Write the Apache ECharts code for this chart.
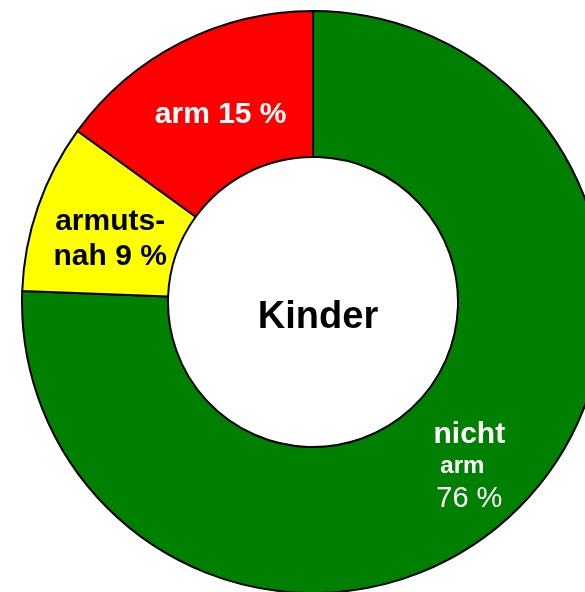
<!DOCTYPE html>
<html lang="de">

<head>
    <meta charset="UTF-8">
    <title>Kinder</title>
    <style>
        * {
            margin: 0;
            padding: 0;
            box-sizing: border-box;
        }

        html,
        body {
            height: 100%;
            background: #fff;
        }

        #box {
            width: 585px;
            height: 592px;
        }
    </style>
    <script src="https://cdn.jsdelivr.net/npm/echarts@6/dist/echarts.min.js"></script>
</head>

<body>
    <div id="box"></div>

    <script>
        // Daten (Anteile in %, Beschriftung gerundet)
        var categories = ['nicht arm', 'armutsnah', 'arm'];
        var values = [75.6, 9.4, 15];
        var colors = ['#008000', '#ffff00', '#ff0000'];
        var centerText = 'Kinder';

        var myChart = echarts.init(document.getElementById('box'));

        // Beschriftung je Segment
        function labelFor(i, v) {
            v = Math.round(v);
            if (i === 0) return '{big|nicht}\n{small|arm}\n{num|' + v + ' %}';
            if (i === 1) return '{y|armuts-}\n{y|nah ' + v + ' %}';
            return '{r|arm ' + v + ' %}';
        }

        // kleine Verschiebung der Beschriftungen
        var labelShift = [[3, 7], [6, 9], [8, 10]];

        var font = '"Liberation Sans", Arial, sans-serif';

        var data = categories.map(function (name, i) {
            return {
                name: name,
                value: values[i],
                itemStyle: { color: colors[i] }
            };
        });

        myChart.setOption({
            animation: false,
            graphic: [{
                type: 'text',
                x: 318,
                y: 318,
                style: {
                    text: centerText,
                    fontFamily: font,
                    fontWeight: 'bold',
                    fontSize: 38,
                    fill: '#000',
                    align: 'center',
                    verticalAlign: 'middle'
                }
            }],
            series: [{
                type: 'pie',
                center: [313, 302],
                radius: [145, 291],
                startAngle: 90,
                clockwise: true,
                avoidLabelOverlap: false,
                itemStyle: {
                    borderColor: '#000',
                    borderWidth: 2
                },
                label: {
                    show: true,
                    position: 'inside',
                    fontFamily: font,
                    formatter: function (p) {
                        return labelFor(p.dataIndex, p.value);
                    },
                    rich: {
                        big: { color: '#fff', fontFamily: font, fontWeight: 'bold', fontSize: 30, lineHeight: 32 },
                        small: { color: '#fff', fontFamily: font, fontWeight: 'bold', fontSize: 24, lineHeight: 30, padding: [0, 14, 0, 0] },
                        num: { color: '#fff', fontFamily: font, fontWeight: 'normal', fontSize: 29, lineHeight: 36 },
                        y: { color: '#000', fontFamily: font, fontWeight: 'bold', fontSize: 30, lineHeight: 35 },
                        r: { color: '#fff', fontFamily: font, fontWeight: 'bold', fontSize: 30, lineHeight: 32 }
                    }
                },
                labelLayout: function (params) {
                    var s = labelShift[params.dataIndex];
                    return { dx: s[0], dy: s[1] };
                },
                labelLine: { show: false },
                emphasis: { disabled: true },
                data: data
            }]
        });

        window.onresize = function () {
            myChart.resize();
        };
    </script>
</body>

</html>
